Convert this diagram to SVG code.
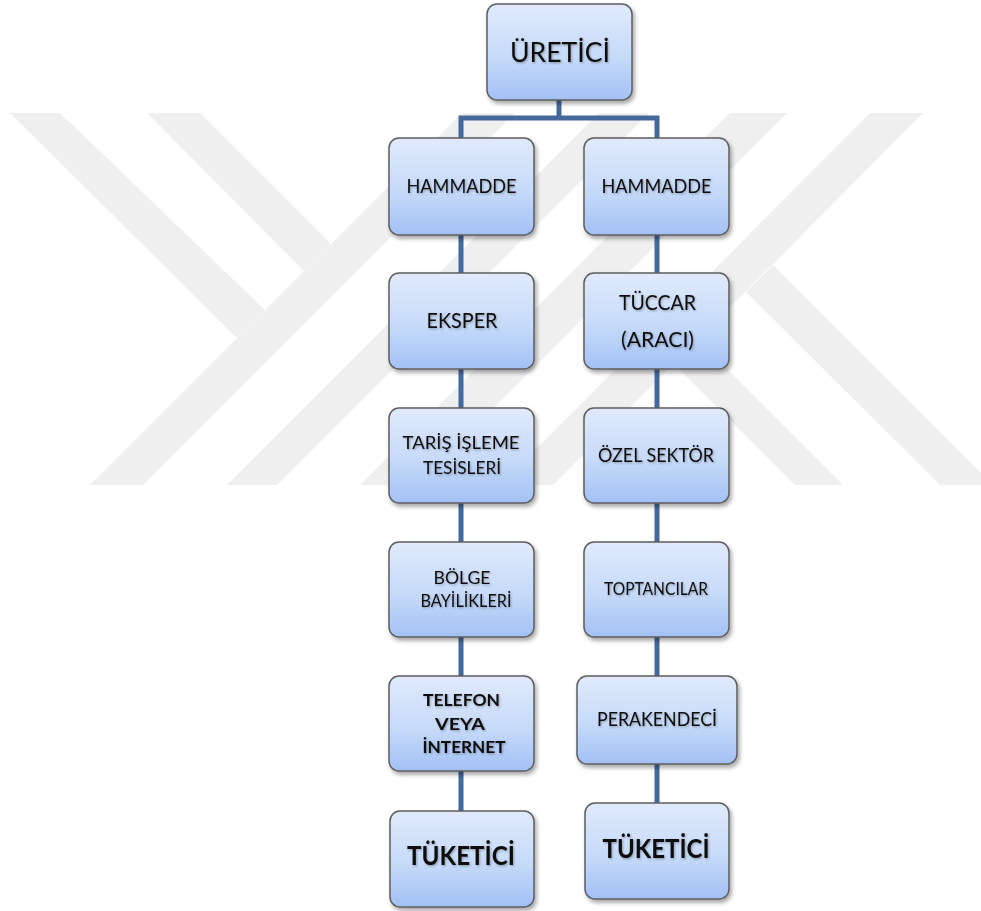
<svg xmlns="http://www.w3.org/2000/svg" width="981" height="911" viewBox="0 0 981 911">
  <defs>
    <linearGradient id="boxFill" x1="0" y1="0" x2="0" y2="1">
      <stop offset="0" stop-color="#e0eafb"/>
      <stop offset="0.55" stop-color="#c6daf9"/>
      <stop offset="1" stop-color="#a3c1f5"/>
    </linearGradient>
    <filter id="boxShadow" x="-10%" y="-10%" width="125%" height="130%">
      <feDropShadow dx="2" dy="3" stdDeviation="2" flood-color="#000" flood-opacity="0.35"/>
    </filter>
    <filter id="txtShadow" x="-5%" y="-20%" width="115%" height="150%">
      <feDropShadow dx="1" dy="1.2" stdDeviation="0.8" flood-color="#000" flood-opacity="0.3"/>
    </filter>
  </defs>
  <style>
    .wm { fill: #efefef; }
    .box { fill: url(#boxFill); stroke: #5e5e5e; stroke-width: 1.5; filter: url(#boxShadow); }
    .t { font-family: Lato, "Open Sans", "Liberation Sans", sans-serif; fill: #0d0d0d; text-anchor: middle; filter: url(#txtShadow); }
    .b { font-weight: bold; }
    .conn { fill: none; stroke: #44699a; stroke-width: 5; stroke-linejoin: miter; }
  </style>
  <rect width="981" height="911" fill="#ffffff"/>
  <g id="watermark">
    <polygon class="wm" points="90,485 143,485 515,113 462,113"/>
    <polygon class="wm" points="227,485 277,485 649,113 599,113"/>
    <polygon class="wm" points="360,485 417,485 787,113 730,113"/>
    <polygon class="wm" points="500,485 553,485 923,113 870,113"/>
    <polygon class="wm" points="10,113 60,113 265,310 237,338"/>
    <polygon class="wm" points="147,113 200,113 331,244 304,271"/>
    <polygon class="wm" points="940,485 993,485 773,265 746,292"/>
    <polygon class="wm" points="795,485 843,485 698,340 674,364"/>
  </g>
  <g id="connectors">
    <path class="conn" d="M559,100 V118"/>
    <path class="conn" d="M461,138 V118 H657 V138"/>
    <path class="conn" d="M461,235 V273 M461,369 V408 M461,503 V542 M461,637 V676 M461,771 V811"/>
    <path class="conn" d="M657,235 V273 M657,369 V408 M657,503 V542 M657,637 V676 M657,764 V803"/>
  </g>
  <g id="n-uretici">
    <rect class="box" x="487" y="4" width="145" height="96" rx="10"/>
    <text class="t" x="560" y="62" font-size="26" textLength="100" lengthAdjust="spacingAndGlyphs">ÜRETİCİ</text>
  </g>
  <g id="n-hammadde-1">
    <rect class="box" x="389" y="138" width="145" height="97" rx="10"/>
    <text class="t" x="461.5" y="193" font-size="19.5" textLength="110" lengthAdjust="spacingAndGlyphs">HAMMADDE</text>
  </g>
  <g id="n-hammadde-2">
    <rect class="box" x="584" y="138" width="145" height="97" rx="10"/>
    <text class="t" x="656.5" y="193" font-size="19.5" textLength="110" lengthAdjust="spacingAndGlyphs">HAMMADDE</text>
  </g>
  <g id="n-eksper">
    <rect class="box" x="389" y="273" width="145" height="96" rx="10"/>
    <text class="t" x="462" y="328" font-size="21" textLength="71" lengthAdjust="spacingAndGlyphs">EKSPER</text>
  </g>
  <g id="n-tuccar">
    <rect class="box" x="584" y="273" width="145" height="96" rx="10"/>
    <text class="t" x="657.5" y="310" font-size="21" textLength="77" lengthAdjust="spacingAndGlyphs">TÜCCAR</text>
    <text class="t" x="657.5" y="347" font-size="21" textLength="73" lengthAdjust="spacingAndGlyphs">(ARACI)</text>
  </g>
  <g id="n-taris">
    <rect class="box" x="389" y="408" width="145" height="95" rx="10"/>
    <text class="t" x="461" y="449" font-size="18" textLength="117" lengthAdjust="spacingAndGlyphs">TARİŞ İŞLEME</text>
    <text class="t" x="462" y="474" font-size="18" textLength="78" lengthAdjust="spacingAndGlyphs">TESİSLERİ</text>
  </g>
  <g id="n-ozel">
    <rect class="box" x="584" y="408" width="145" height="95" rx="10"/>
    <text class="t" x="656" y="462" font-size="19.5" textLength="116" lengthAdjust="spacingAndGlyphs">ÖZEL SEKTÖR</text>
  </g>
  <g id="n-bolge">
    <rect class="box" x="389" y="542" width="145" height="95" rx="10"/>
    <text class="t" x="462" y="584" font-size="17.5" textLength="57" lengthAdjust="spacingAndGlyphs">BÖLGE</text>
    <text class="t" x="466" y="607" font-size="17.5" textLength="91" lengthAdjust="spacingAndGlyphs">BAYİLİKLERİ</text>
  </g>
  <g id="n-toptancilar">
    <rect class="box" x="584" y="542" width="145" height="95" rx="10"/>
    <text class="t" x="656" y="595" font-size="16.5" textLength="104" lengthAdjust="spacingAndGlyphs">TOPTANCILAR</text>
  </g>
  <g id="n-telefon">
    <rect class="box" x="389" y="676" width="145" height="95" rx="10"/>
    <text class="t b" x="461.5" y="706" font-size="17.5" textLength="77" lengthAdjust="spacingAndGlyphs">TELEFON</text>
    <text class="t b" x="460" y="730" font-size="17.5" textLength="50" lengthAdjust="spacingAndGlyphs">VEYA</text>
    <text class="t b" x="464" y="753" font-size="17.5" textLength="83" lengthAdjust="spacingAndGlyphs">İNTERNET</text>
  </g>
  <g id="n-perakendeci">
    <rect class="box" x="577" y="676" width="160" height="88" rx="10"/>
    <text class="t" x="657" y="726" font-size="18.5" textLength="120" lengthAdjust="spacingAndGlyphs">PERAKENDECİ</text>
  </g>
  <g id="n-tuketici-1">
    <rect class="box" x="390" y="811" width="144" height="96" rx="10"/>
    <text class="t b" x="461" y="865" font-size="27" textLength="108" lengthAdjust="spacingAndGlyphs">TÜKETİCİ</text>
  </g>
  <g id="n-tuketici-2">
    <rect class="box" x="585" y="803" width="144" height="96" rx="10"/>
    <text class="t b" x="656" y="858" font-size="27" textLength="107" lengthAdjust="spacingAndGlyphs">TÜKETİCİ</text>
  </g>
</svg>
